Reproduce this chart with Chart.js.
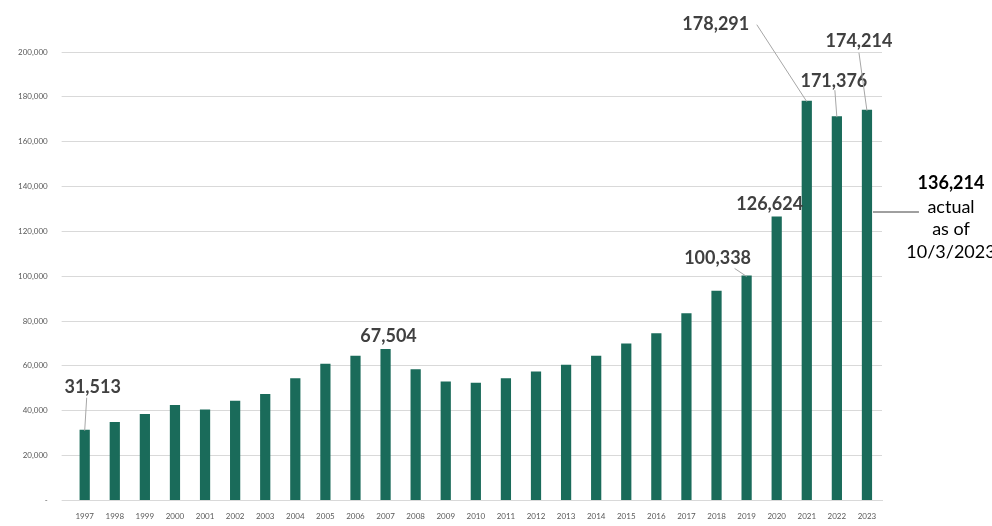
<!DOCTYPE html>
<html><head><meta charset="utf-8">
<script src="https://cdn.jsdelivr.net/npm/chart.js@4"></script>
<style>html,body{margin:0;background:#fff}#w{width:992px;height:526px}</style>
</head><body><div id="w"><canvas id="c"></canvas></div>
<script>
const years=["1997","1998","1999","2000","2001","2002","2003","2004","2005","2006","2007","2008","2009","2010","2011","2012","2013","2014","2015","2016","2017","2018","2019","2020","2021","2022","2023"];
const values=[31513,35000,38500,42500,40500,44500,47500,54500,61000,64500,67504,58500,53000,52500,54500,57500,60500,64500,70000,74500,83500,93500,100338,126624,178291,171376,174214];
// labelled bars: index, text offset from bar top (dx,dy), leader line start offset or null
const labels=[
 {i:0,dx:8,dy:-43,line:[2,-32]},
 {i:10,dx:3,dy:-13,line:null},
 {i:22,dx:-29,dy:-17,line:[-12,-7]},
 {i:23,dx:-7,dy:-12,line:null},
 {i:24,dx:-91,dy:-76,line:[-50,-76]},
 {i:25,dx:-3,dy:-35,line:[-2,-26]},
 {i:26,dx:-8,dy:-69,line:[-8,-57]}
];
const note=["136,214","actual","as of","10/3/2023"];
const fmt=v=>v.toLocaleString('en-US');
const plug={id:'ann',afterDatasetsDraw(ch){
 const c=ch.ctx,x=ch.scales.x,y=ch.scales.y;c.save();
 c.font='bold 18px Lato, "Open Sans", sans-serif';c.fillStyle='#404040';c.textAlign='center';c.textBaseline='middle';
 c.strokeStyle='#a6a6a6';c.lineWidth=1;
 labels.forEach(l=>{const bx=x.getPixelForValue(l.i),by=y.getPixelForValue(values[l.i]);
  c.fillText(fmt(values[l.i]),bx+l.dx,by+l.dy);
  if(l.line){c.beginPath();c.moveTo(bx+l.line[0],by+l.line[1]);c.lineTo(bx,by+1);c.stroke();}});
 const bx=x.getPixelForValue(26)+6,ly=212;
 c.strokeStyle='#404040';c.beginPath();c.moveTo(bx,ly);c.lineTo(bx+46,ly);c.stroke();
 c.fillStyle='#000';
 c.font='bold 18px Lato, "Open Sans", sans-serif';c.fillText(note[0],951,183);
 c.font='18px Lato, "Open Sans", sans-serif';
 c.fillText(note[1],951,207);c.fillText(note[2],951,229);c.fillText(note[3],951,252);
 c.restore();}};
new Chart(document.getElementById('c'),{type:'bar',
 data:{labels:years,datasets:[{data:values,backgroundColor:'#1a6b5a',barPercentage:0.34,categoryPercentage:1}]},
 options:{responsive:true,maintainAspectRatio:false,animation:false,
  layout:{padding:{top:52,right:110,left:4,bottom:2}},
  plugins:{legend:{display:false},tooltip:{enabled:false}},
  scales:{
   x:{grid:{display:false},border:{color:'#d9d9d9'},ticks:{color:'#595959',font:{size:8,family:'Lato'},maxRotation:0,autoSkip:false}},
   y:{min:0,max:200000,border:{display:false},grid:{color:'#d9d9d9'},
      ticks:{stepSize:20000,color:'#595959',font:{size:8,family:'Lato'},padding:14,callback:v=>v===0?'-':fmt(v)}}}}
 ,plugins:[plug]});
</script></body></html>
